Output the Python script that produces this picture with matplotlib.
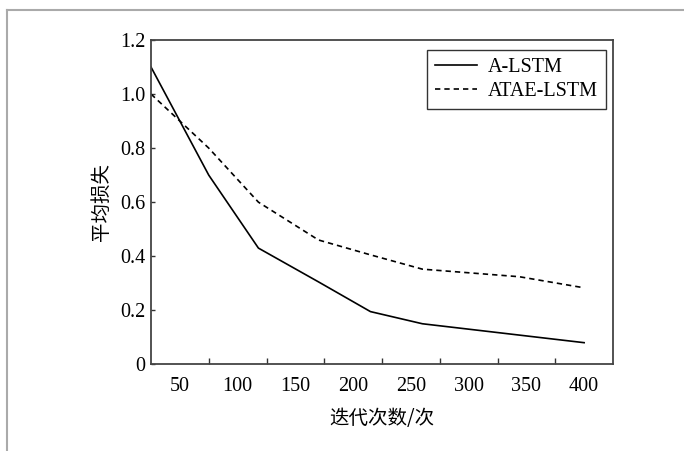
import matplotlib
matplotlib.use("Agg")
from matplotlib import pyplot as plt
from matplotlib.lines import Line2D

# data
x_alstm = [25, 75, 118, 170, 215, 260, 400]
y_alstm = [1.10, 0.70, 0.43, 0.305, 0.195, 0.15, 0.08]

x_atae = [25, 75, 118, 170, 215, 260, 344, 400]
y_atae = [1.00, 0.80, 0.60, 0.46, 0.405, 0.352, 0.324, 0.283]

xtick_labels = [50, 100, 150, 200, 250, 300, 350, 400]
xtick_minor = [75, 125, 175, 225, 275, 325, 375]
ytick_vals = [0, 0.2, 0.4, 0.6, 0.8, 1.0, 1.2]
ytick_labels = ['0', '0.2', '0.4', '0.6', '0.8', '1.0', '1.2']

num_font = 'Liberation Serif'
cjk_font = ['Noto Sans CJK SC', 'DejaVu Sans']

fig = plt.figure(figsize=(6.84, 4.51), dpi=100)
ax = fig.add_axes([151/684, 1 - 364.3/451, 462/684, 324.3/451])

ax.plot(x_alstm, y_alstm, color='black', lw=1.2, label='A-LSTM')
ax.plot(x_atae, y_atae, color='black', lw=1.2, dashes=(3.2, 2.4), label='ATAE-LSTM')

ax.set_xlim(25, 425)
ax.set_ylim(0, 1.2)

# labels at 50..400 without marks, short inward marks between them
ax.set_xticks(xtick_labels)
ax.set_xticklabels([str(v) for v in xtick_labels], fontfamily=num_font, fontsize=14.5)
ax.set_xticks(xtick_minor, minor=True)
ax.tick_params(axis='x', which='major', length=0, pad=9)
ax.tick_params(axis='x', which='minor', direction='in', length=4, width=1, color='#333333')

ax.set_yticks(ytick_vals)
ax.set_yticklabels(ytick_labels, fontfamily=num_font, fontsize=14.5)
ax.tick_params(axis='y', direction='in', length=3, width=1, pad=4, color='#333333')

for sp in ax.spines.values():
    sp.set_color('#444444')
    sp.set_linewidth(1.3)

ax.set_xlabel('迭代次数/次', fontfamily=cjk_font, fontsize=14, labelpad=9)
ax.set_ylabel('平均损失', fontfamily=cjk_font, fontsize=14, labelpad=6)

leg = ax.legend(loc='upper right', bbox_to_anchor=(606/684, 1 - 50/451),
                bbox_transform=fig.transFigure, prop={'family': num_font, 'size': 14.5},
                frameon=True, fancybox=False, edgecolor='black', handlelength=2.1,
                borderpad=0.4, labelspacing=0.25, handletextpad=0.55, borderaxespad=0)
leg.get_frame().set_linewidth(1.0)

# grey border along the top and left of the picture
fig.add_artist(Line2D([7.3/684, 7.3/684], [0, 1 - 9.5/451], transform=fig.transFigure,
                      color='#aaaaaa', lw=1.5))
fig.add_artist(Line2D([7.3/684, 1], [1 - 9.5/451, 1 - 9.5/451], transform=fig.transFigure,
                      color='#aaaaaa', lw=1.5))

plt.savefig('out.png', dpi=100)
